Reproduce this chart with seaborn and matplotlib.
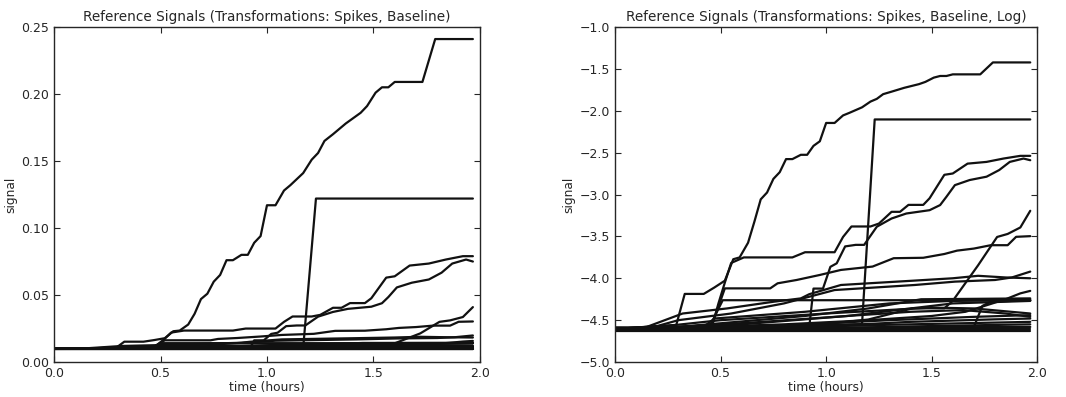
import numpy as np
import pandas as pd
import matplotlib
matplotlib.use("Agg")
import matplotlib.pyplot as plt
import seaborn as sns

# --- signals (linear signal, time in hours) ---
t_big = [0, 0.29, 0.33, 0.42, 0.47, 0.52, 0.56, 0.59, 0.63, 0.66, 0.69, 0.72, 0.75, 0.78,
         0.81, 0.84, 0.88, 0.91, 0.94, 0.97, 1.00, 1.04, 1.08, 1.11, 1.17, 1.21, 1.24, 1.27,
         1.31, 1.37, 1.44, 1.47, 1.51, 1.54, 1.57, 1.60, 1.73, 1.79, 1.967]
v_big = [0.010, 0.0105, 0.0152, 0.0152, 0.0164, 0.0178, 0.023, 0.0235, 0.028, 0.036, 0.047,
         0.051, 0.060, 0.065, 0.076, 0.076, 0.080, 0.080, 0.089, 0.094, 0.117, 0.117, 0.128,
         0.132, 0.141, 0.151, 0.156, 0.165, 0.170, 0.178, 0.186, 0.191, 0.201, 0.205, 0.205,
         0.209, 0.209, 0.241, 0.241]

t_spike = [0, 0.30, 1.17, 1.23, 1.967]
v_spike = [0.010, 0.0102, 0.0106, 0.122, 0.122]

t_a = [0, 0.20, 0.46, 0.49, 0.52, 0.55, 0.61, 0.84, 0.90, 1.04, 1.08, 1.12, 1.21, 1.25, 1.31,
       1.35, 1.39, 1.46, 1.49, 1.56, 1.60, 1.67, 1.76, 1.84, 1.92, 1.967]
v_a = [0.010, 0.0101, 0.0104, 0.0136, 0.0174, 0.022, 0.0235, 0.0235, 0.025, 0.025, 0.030,
       0.034, 0.034, 0.0352, 0.0405, 0.0405, 0.044, 0.044, 0.0476, 0.063, 0.064, 0.072,
       0.0735, 0.0765, 0.079, 0.079]

t_b = [0, 0.92, 0.94, 0.985, 1.02, 1.05, 1.09, 1.14, 1.18, 1.24, 1.31, 1.38, 1.49, 1.54,
       1.57, 1.61, 1.68, 1.76, 1.82, 1.87, 1.935, 1.967]
v_b = [0.01005, 0.01025, 0.0162, 0.0162, 0.021, 0.0219, 0.0268, 0.0273, 0.0273, 0.0339,
       0.0374, 0.0397, 0.0413, 0.0439, 0.0485, 0.0557, 0.0592, 0.0616, 0.0667, 0.0735,
       0.0765, 0.075]

t_c = [0, 0.30, 0.46, 0.52, 0.735, 0.77, 0.86, 0.97, 1.07, 1.22, 1.32, 1.46, 1.56, 1.62,
       1.70, 1.78, 1.86, 1.90, 1.967]
v_c = [0.0100, 0.01015, 0.01057, 0.01624, 0.01624, 0.01725, 0.01795, 0.01906, 0.02024,
       0.02107, 0.02328, 0.02340, 0.02448, 0.02548, 0.02612, 0.02719, 0.02719, 0.03005, 0.03029]

t_d = [0, 0.30, 0.45, 0.51, 1.967]
v_d = [0.0100, 0.0101, 0.0104, 0.0141, 0.0141]

t_g = [0, 0.15, 0.32, 0.53, 0.75, 0.88, 0.92, 1.07, 1.20, 1.40, 1.60, 1.72, 1.85, 1.967]
v_g = [0.0100, 0.01025, 0.01203, 0.01278, 0.01384, 0.01441, 0.01515, 0.01691, 0.01725,
       0.01777, 0.01832, 0.01887, 0.01850, 0.01832]

t_h = [0, 0.20, 0.30, 0.55, 0.80, 1.04, 1.42, 1.61, 1.80, 1.88, 1.967]
v_h = [0.0100, 0.01036, 0.01111, 0.01203, 0.01357, 0.01592, 0.01691, 0.01760, 0.01795,
       0.01850, 0.01984]

t_i = [0, 0.85, 1.20, 1.41, 1.56, 1.60, 1.72, 1.81, 1.86, 1.92, 1.967]
v_i = [0.0100, 0.0102, 0.0112, 0.0128, 0.0128, 0.0140, 0.0214, 0.0300, 0.0311, 0.0336, 0.0410]

t_j = [0, 0.30, 0.80, 1.20, 1.50, 1.66, 1.75, 1.85, 1.92, 1.967]
v_j = [0.0100, 0.01015, 0.01057, 0.01111, 0.01168, 0.01228, 0.01317, 0.01426, 0.01530, 0.01576]

t_k = [0, 1.00, 1.70, 1.74, 1.78, 1.967]
v_k = [0.0100, 0.01005, 0.01025, 0.01317, 0.01384, 0.01412]

t_n1 = [0, 0.30, 0.90, 1.20, 1.45, 1.967]
v_n1 = [0.0100, 0.01025, 0.01168, 0.01278, 0.01426, 0.01441]

t_n2 = [0, 0.60, 1.10, 1.60, 1.967]
v_n2 = [0.0100, 0.01057, 0.01168, 0.01357, 0.01398]

t_o = [0, 0.42, 0.47, 0.90, 1.30, 1.60, 1.967]
v_o = [0.0100, 0.01025, 0.01133, 0.01228, 0.01357, 0.01398, 0.01412]

t_m1 = [0, 0.20, 0.50, 1.00, 1.50, 1.70, 1.967]
v_m1 = [0.0100, 0.01025, 0.01111, 0.01203, 0.01291, 0.01278, 0.01203]

t_m2 = [0, 0.30, 0.70, 1.10, 1.40, 1.65, 1.85, 1.967]
v_m2 = [0.0100, 0.01025, 0.01089, 0.01168, 0.01228, 0.01253, 0.01203, 0.01156]

t_m3 = [0, 0.40, 0.90, 1.30, 1.70, 1.967]
v_m3 = [0.0100, 0.01015, 0.01057, 0.01111, 0.01156, 0.01180]

t_m4 = [0, 0.50, 1.00, 1.40, 1.80, 1.967]
v_m4 = [0.0100, 0.01005, 0.01036, 0.01089, 0.01122, 0.01133]

t_m5 = [0, 0.60, 1.20, 1.967]
v_m5 = [0.0098, 0.0100, 0.01046, 0.01089]

t_m6 = [0, 0.80, 1.50, 1.967]
v_m6 = [0.0099, 0.0100, 0.01036, 0.01057]

t_m7 = [0, 1.00, 1.967]
v_m7 = [0.0102, 0.01015, 0.01025]

t_m8 = [0, 1.967]
v_m8 = [0.0100, 0.0100]

t_m9 = [0, 1.967]
v_m9 = [0.0098, 0.0098]

series = {
    "big": (t_big, v_big), "spike": (t_spike, v_spike), "a": (t_a, v_a), "b": (t_b, v_b),
    "c": (t_c, v_c), "d": (t_d, v_d), "g": (t_g, v_g), "h": (t_h, v_h), "i": (t_i, v_i),
    "j": (t_j, v_j), "k": (t_k, v_k), "n1": (t_n1, v_n1), "n2": (t_n2, v_n2), "o": (t_o, v_o),
    "m1": (t_m1, v_m1), "m2": (t_m2, v_m2), "m3": (t_m3, v_m3), "m4": (t_m4, v_m4),
    "m5": (t_m5, v_m5), "m6": (t_m6, v_m6), "m7": (t_m7, v_m7), "m8": (t_m8, v_m8),
    "m9": (t_m9, v_m9),
}

frames = []
for name, (t, v) in series.items():
    frames.append(pd.DataFrame({"time": t, "signal": v, "unit": name}))
df = pd.concat(frames, ignore_index=True)
df["log_signal"] = np.log(df["signal"])

sns.set_style("ticks", {"xtick.direction": "in", "ytick.direction": "in",
                        "xtick.top": True, "ytick.right": True})
plt.rcParams["font.family"] = ["DejaVu Sans"]

fig = plt.figure(figsize=(10.66, 3.97), dpi=100)
ax1 = fig.add_axes([0.0507, 0.088, 0.3995, 0.844])
ax2 = fig.add_axes([0.577, 0.088, 0.396, 0.844])

for ax, col, title, ylim in [
    (ax1, "signal", "Reference Signals (Transformations: Spikes, Baseline)", (0, 0.25)),
    (ax2, "log_signal", "Reference Signals (Transformations: Spikes, Baseline, Log)", (-5, -1)),
]:
    sns.lineplot(data=df, x="time", y=col, units="unit", estimator=None,
                 color="#111111", lw=1.6, sort=False, ax=ax)
    ax.set_xlim(0, 2)
    ax.set_ylim(*ylim)
    ax.set_title(title, fontsize=9.8, pad=4)
    ax.set_xlabel("time (hours)", fontsize=8.8, labelpad=1)
    ax.set_ylabel("signal", fontsize=8.8, labelpad=3)
    ax.tick_params(labelsize=9, length=4, width=0.8, top=True, right=True)
    for s in ax.spines.values():
        s.set_linewidth(1.0)

ax1.set_yticks(np.arange(0, 0.2501, 0.05))
ax2.set_yticks(np.arange(-5, -0.99, 0.5))
ax1.set_xticks(np.arange(0, 2.01, 0.5))
ax2.set_xticks(np.arange(0, 2.01, 0.5))

fig.savefig("out.png", dpi=100)
